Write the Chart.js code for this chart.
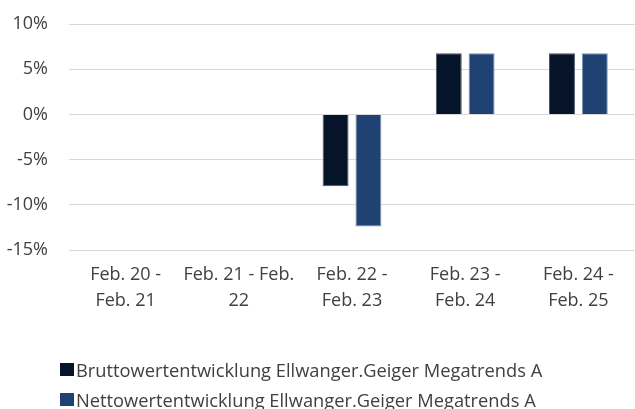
<!DOCTYPE html>
<html>
<head>
<meta charset="utf-8">
<script src="https://cdn.jsdelivr.net/npm/chart.js@4"></script>
<style>
  html, body { margin:0; padding:0; background:#fff; }
  #wrap { position:relative; width:635px; height:409px; overflow:hidden; }
  canvas { position:absolute; left:0; top:0; }
  .leg { position:absolute; left:60px; height:20px; display:flex; align-items:center;
         font-family:"Open Sans", sans-serif; font-size:18.3px; color:#404040; white-space:nowrap; }
  .leg span.box { display:inline-block; width:14px; height:13px; margin-right:2px; }
</style>
</head>
<body>
<div id="wrap">
  <canvas id="c" width="635" height="409"></canvas>
  <div id="legend"></div>
</div>
<script>
const categories = [
  ["Feb. 20 -", "Feb. 21"],
  ["Feb. 21 - Feb.", "22"],
  ["Feb. 22 -", "Feb. 23"],
  ["Feb. 23 -", "Feb. 24"],
  ["Feb. 24 -", "Feb. 25"]
];
const seriesNames = [
  "Bruttowertentwicklung Ellwanger.Geiger Megatrends A",
  "Nettowertentwicklung Ellwanger.Geiger Megatrends A"
];
const bruttoValues = [null, null, -7.95, 6.76, 6.76];
const nettoValues  = [null, null, -12.4, 6.76, 6.76];
const yTicks = [10, 5, 0, -5, -10, -15];

const colors = ["#061429", "#1f4273"];
const borders = ["#4a5466", "#7d93b5"];
const textColor = "#404040";
const fontFamily = '"Open Sans", sans-serif';

const chart = new Chart(document.getElementById("c"), {
  type: "bar",
  data: {
    labels: categories,
    datasets: [
      { label: seriesNames[0], data: bruttoValues, backgroundColor: colors[0], borderColor: borders[0], borderWidth: 1,
        categoryPercentage: 0.58, barPercentage: 0.79 },
      { label: seriesNames[1], data: nettoValues, backgroundColor: colors[1], borderColor: borders[1], borderWidth: 1,
        categoryPercentage: 0.58, barPercentage: 0.79 }
    ]
  },
  options: {
    responsive: false,
    animation: false,
    layout: { padding: { top: 24, right: 0, bottom: 0, left: 0 } },
    plugins: { legend: { display: false }, tooltip: { enabled: false } },
    scales: {
      x: {
        grid: { display: false, drawTicks: false },
        border: { display: false },
        ticks: { color: textColor, font: { family: fontFamily, size: 18, lineHeight: 26/18 }, padding: 12, maxRotation: 0, autoSkip: false },
        afterFit: s => { s.height = 409 - 250; s.paddingLeft = 0; s.paddingRight = 0; }
      },
      y: {
        min: Math.min(...yTicks), max: Math.max(...yTicks),
        afterBuildTicks: s => { s.ticks = yTicks.slice().sort((a,b)=>a-b).map(v => ({ value: v })); },
        grid: { color: "#d9d9d9", lineWidth: 1, drawTicks: false },
        border: { display: false },
        ticks: { color: textColor, font: { family: fontFamily, size: 18 }, padding: 21, callback: v => v + "%" },
        afterFit: s => { s.width = 69; s.paddingTop = 0; s.paddingBottom = 0; }
      }
    }
  }
});

const legendEl = document.getElementById("legend");
const rowTops = [359.5, 389];
seriesNames.forEach((name, i) => {
  const d = document.createElement("div");
  d.className = "leg";
  d.style.top = rowTops[i] + "px";
  const b = document.createElement("span");
  b.className = "box";
  b.style.background = colors[i];
  d.appendChild(b);
  d.appendChild(document.createTextNode(name));
  legendEl.appendChild(d);
});
</script>
</body>
</html>
